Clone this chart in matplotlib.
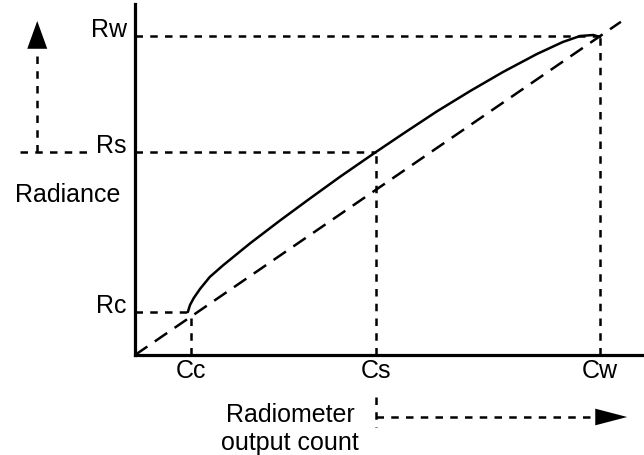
import matplotlib
matplotlib.use("Agg")
import matplotlib.pyplot as plt

plt.rcParams['font.family'] = ['Liberation Sans', 'DejaVu Sans']

# calibration points (counts / radiance, arbitrary units)
count_labels = ['Cc', 'Cs', 'Cw']
counts = [0.98, 4.19, 8.09]
radiance_labels = ['Rc', 'Rs', 'Rw']
radiances = [1.075, 5.075, 7.975]

# measured (non-linear) response curve
curve_count = [0.92, 0.935, 0.957, 1.02, 1.13, 1.30, 1.53, 2.0, 2.52, 3.04, 3.57, 4.19,
               4.66, 5.25, 5.83, 6.40, 6.99, 7.44, 7.74, 7.97, 8.09]
curve_rad = [1.075, 1.15, 1.25, 1.42, 1.65, 1.95, 2.24, 2.79, 3.36, 3.91, 4.46, 5.075,
             5.53, 6.09, 6.60, 7.075, 7.525, 7.825, 7.975, 8.0, 7.95]

# linear reference extends a bit past Cw
diag_end = 8.45

fig = plt.figure(figsize=(6.44, 4.56), dpi=100)
ax = fig.add_axes([135 / 644, 100 / 456, 509 / 644, 351 / 456])
ax.set_xlim(0, 509 / 57.5)
ax.set_ylim(0, 351 / 40)
for s in ['top', 'right']:
    ax.spines[s].set_visible(False)
for s in ['left', 'bottom']:
    ax.spines[s].set_linewidth(2.3)
ax.set_xticks([])
ax.set_yticks([])

lw = 1.8
dot = (0, (3.0, 2.9))
k = 'black'

# dashed linear line
slope = radiances[2] / counts[2]
ax.plot([0, diag_end], [0, slope * diag_end], color=k, lw=lw,
        linestyle=(0, (6, 3.6)), clip_on=False)

# response curve
ax.plot(curve_count, curve_rad, color=k, lw=lw, solid_capstyle='round',
        solid_joinstyle='round')

# guide lines + labels
fs = 18
for c, r, cl, rl in zip(counts, radiances, count_labels, radiance_labels):
    ax.plot([0, c], [r, r], color=k, lw=lw, linestyle=dot)
    ax.plot([c, c], [0, r], color=k, lw=lw, linestyle=dot)
    ax.text(-0.14, r, rl, ha='right', va='baseline', fontsize=fs, clip_on=False)
    ax.text(c, -0.07, cl, ha='center', va='top', fontsize=fs, clip_on=False)

ax.text(-2.09, 3.85, 'Radiance', ha='left', va='baseline', fontsize=fs)

# left "radiance increases" arrow
ax.plot([-2.0, -0.82], [radiances[1], radiances[1]], color=k, lw=lw,
        linestyle=dot, clip_on=False)
ax.plot([-1.70, -1.70], [radiances[1], 7.65], color=k, lw=lw,
        linestyle=dot, clip_on=False)
ax.annotate('', xy=(-1.70, 8.35), xytext=(-1.70, 7.65), annotation_clip=False,
            arrowprops=dict(arrowstyle='-|>,head_length=1.0,head_width=0.36',
                            mutation_scale=20, lw=0, color=k,
                            shrinkA=0, shrinkB=0))

# bottom "count increases" arrow
ax.text(2.70, -1.82, 'Radiometer\noutput count', ha='center', va='center',
        fontsize=fs, linespacing=1.2, clip_on=False)
ax.plot([counts[1], counts[1]], [-1.05, -1.8], color=k, lw=lw,
        linestyle=dot, clip_on=False)
ax.plot([counts[1], 8.0], [-1.55, -1.55], color=k, lw=lw,
        linestyle=dot, clip_on=False)
ax.annotate('', xy=(8.56, -1.55), xytext=(8.0, -1.55), annotation_clip=False,
            arrowprops=dict(arrowstyle='-|>,head_length=1.15,head_width=0.3',
                            mutation_scale=20, lw=0, color=k,
                            shrinkA=0, shrinkB=0))

fig.savefig('out.png', dpi=100)
